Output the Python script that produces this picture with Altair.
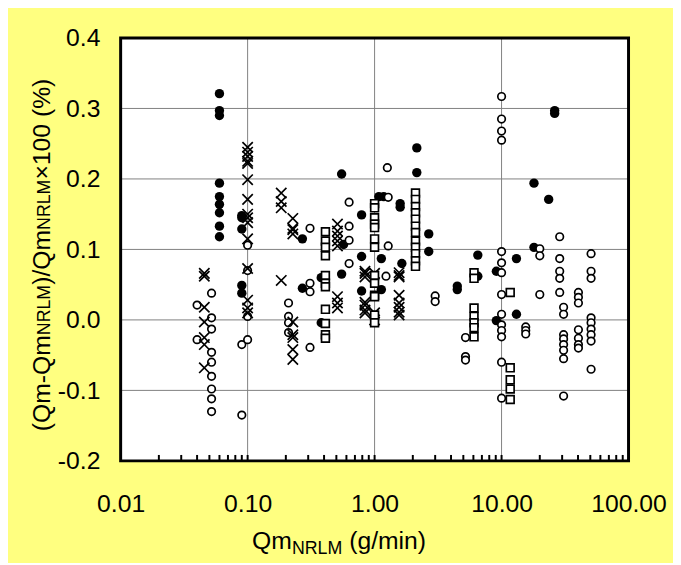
import altair as alt
import pandas as pd

# ---------------- data ----------------
filled_x = [0.06, 0.06, 0.06, 0.06, 0.06, 0.06, 0.06, 0.06, 0.06,
            0.09, 0.09, 0.09, 0.09, 0.09,
            0.27, 0.27, 0.38, 0.38, 0.55, 0.57, 0.55, 0.79, 0.79, 0.79,
            1.08, 1.18, 1.13, 1.13, 1.59, 1.59, 1.64, 2.15, 2.15, 2.67, 2.67,
            4.48, 4.48, 6.5, 6.5, 9.1, 9.1, 13.1, 13.1, 18, 18, 23.5, 26.2, 26.2]
filled_y = [0.321, 0.297, 0.290, 0.194, 0.175, 0.164, 0.152, 0.133, 0.118,
            0.148, 0.145, 0.129, 0.049, 0.038,
            0.115, 0.045, 0.060, -0.004, 0.207, 0.107, 0.065, 0.149, 0.090, 0.041,
            0.175, 0.175, 0.087, 0.043, 0.165, 0.160, 0.080, 0.244, 0.209, 0.122, 0.097,
            0.048, 0.043, 0.092, 0.062, 0.069, -0.001, 0.087, 0.008, 0.194, 0.103, 0.171, 0.297, 0.293]

open_x = [0.04, 0.04,
          0.052, 0.052, 0.052, 0.052, 0.052, 0.052, 0.052, 0.052, 0.052,
          0.09, 0.09, 0.1, 0.1, 0.1, 0.1,
          0.21, 0.21, 0.21, 0.21, 0.31, 0.31, 0.31, 0.31,
          0.63, 0.63, 0.63, 0.63, 1.26, 1.28, 1.28, 1.23, 3.0, 3.0,
          5.2, 5.2, 5.2,
          10, 10, 10, 10, 10, 10, 10, 10, 10, 10, 10, 10, 10, 10,
          15.5, 15.5, 15.5, 20, 20, 20,
          28.7, 28.7, 28.7, 28.7, 28.7,
          30.8, 30.8, 30.8, 30.8, 30.8, 30.8, 30.8, 30.8,
          40.3, 40.3, 40.3, 40.3, 40.3, 40.3, 40.3,
          50.7, 50.7, 50.7, 50.7, 50.7, 50.7, 50.7, 50.7, 50.7]
open_y = [0.021, -0.028,
          0.038, 0.003, -0.013, -0.046, -0.060, -0.080, -0.098, -0.112, -0.130,
          -0.035, -0.135, 0.106, 0.070, 0.005, -0.028,
          0.024, 0.005, -0.004, -0.018, 0.130, 0.052, 0.040, -0.039,
          0.167, 0.133, 0.113, 0.080, 0.216, 0.174, 0.105, 0.062, 0.034, 0.026,
          -0.025, -0.052, -0.057,
          0.317, 0.285, 0.268, 0.255, 0.097, 0.081, 0.067, 0.036, 0.008, -0.007, -0.015, -0.024, -0.060, -0.111,
          -0.010, -0.015, -0.020, 0.101, 0.091, 0.036,
          0.118, 0.087, 0.069, 0.059, 0.039,
          0.018, 0.008, -0.021, -0.027, -0.035, -0.043, -0.055, -0.108,
          0.039, 0.032, 0.024, -0.014, -0.026, -0.035, -0.040,
          0.094, 0.069, 0.059, 0.003, -0.004, -0.013, -0.021, -0.030, -0.070]

cross_x = [0.0456, 0.0456, 0.0456, 0.0456, 0.0456, 0.0456, 0.0456,
           0.1, 0.1, 0.1, 0.1, 0.1, 0.1, 0.1, 0.1, 0.1, 0.1, 0.1, 0.1, 0.1, 0.1, 0.1,
           0.184, 0.184, 0.184, 0.184,
           0.227, 0.227, 0.227, 0.227, 0.227, 0.227, 0.227, 0.227, 0.227,
           0.51, 0.51, 0.51, 0.51, 0.51, 0.51, 0.51, 0.51,
           0.84, 0.84, 0.84, 0.84, 0.84, 0.84, 0.84,
           1.0, 1.0, 1.0,
           1.56, 1.56, 1.56, 1.56, 1.56, 1.56, 1.56, 1.56]
cross_y = [0.066, 0.062, 0.018, -0.003, -0.025, -0.035, -0.068,
           0.245, 0.238, 0.232, 0.225, 0.222, 0.199, 0.171, 0.150, 0.145, 0.138, 0.115, 0.073, 0.028, 0.017, 0.010,
           0.180, 0.168, 0.159, 0.056,
           0.144, 0.130, 0.128, 0.122, -0.003, -0.021, -0.025, -0.042, -0.056,
           0.136, 0.126, 0.119, 0.112, 0.105, 0.033, 0.024, 0.017,
           0.069, 0.066, 0.061, 0.025, 0.021, 0.014, 0.010,
           0.066, 0.010, 0.000,
           0.067, 0.063, 0.061, 0.035, 0.024, 0.018, 0.011, 0.007]

square_x = [0.41, 0.41, 0.41, 0.41, 0.41, 0.41, 0.41, 0.41, 0.41, 0.41, 0.41,
            1.0, 1.0, 1.0, 1.0, 1.0, 1.0, 1.0, 1.0, 1.0, 1.0, 1.0, 1.0, 1.0,
            2.1, 2.1, 2.1, 2.1, 2.1, 2.1, 2.1, 2.1, 2.1, 2.1, 2.1, 2.1,
            6.07, 6.07, 6.07, 6.07, 6.07, 6.07, 6.07,
            11.7, 11.7, 11.7, 11.7, 11.7]
square_y = [0.125, 0.112, 0.103, 0.091, 0.063, 0.052, 0.047, 0.015, -0.005, -0.021, -0.026,
            0.165, 0.159, 0.145, 0.136, 0.131, 0.115, 0.103, 0.063, 0.052, 0.035, 0.033, 0.007, -0.004,
            0.180, 0.171, 0.161, 0.152, 0.143, 0.133, 0.124, 0.112, 0.103, 0.094, 0.084, 0.076,
            0.067, 0.059, 0.017, 0.005, -0.004, -0.011, -0.024,
            0.039, -0.068, -0.085, -0.098, -0.113]

x_tick_values = [0.01, 0.1, 1, 10, 100]
x_grid_values = [0.1, 1, 10]
x_minor_ticks = [0.02, 0.03, 0.04, 0.05, 0.06, 0.07, 0.08, 0.09, 0.1,
                 0.2, 0.3, 0.4, 0.5, 0.6, 0.7, 0.8, 0.9, 1,
                 2, 3, 4, 5, 6, 7, 8, 9, 10,
                 20, 30, 40, 50, 60, 70, 80, 90]
y_tick_values = [-0.2, -0.1, 0.0, 0.1, 0.2, 0.3, 0.4]
y_grid_values = [-0.1, 0.0, 0.1, 0.2, 0.3]

# ---------------- layout ----------------
W, H = 514, 428
FONT = "Liberation Sans"
BIG, SMALL = 25, 18
GRID = "#808080"

xscale = alt.Scale(type="log", domain=[0.01, 100], nice=False)
yscale = alt.Scale(domain=[-0.2, 0.4], nice=False)

xaxis = alt.Axis(values=x_tick_values, format=".2f", title=None, grid=False,
                 ticks=False, domain=False,
                 labelFontSize=BIG, labelColor="black", labelPadding=31,
                 labelFont=FONT, labelFlush=False, labelOverlap=False)
yaxis = alt.Axis(values=y_tick_values, title=None, grid=False,
                 labelExpr="replace(format(datum.value, '.1f'), '\u2212', '-')",
                 ticks=False, domain=False,
                 labelFontSize=BIG, labelColor="black", labelPadding=21,
                 labelFont=FONT, labelOverlap=False)

X = alt.X("x:Q", scale=xscale, axis=xaxis)
Y = alt.Y("y:Q", scale=yscale, axis=yaxis)


def series(xs, ys):
    return alt.Chart(pd.DataFrame({"x": xs, "y": ys}))


background = alt.Chart(pd.DataFrame({"a": [0]})).mark_rect(
    fill="white", stroke=None).encode(
    x=alt.value(0), x2=alt.value(W), y=alt.value(0), y2=alt.value(H))

vgrid = alt.Chart(pd.DataFrame({"x": x_grid_values})).mark_rule(
    color=GRID, strokeWidth=1).encode(x=X, y=alt.value(0), y2=alt.value(H))
hgrid = alt.Chart(pd.DataFrame({"y": y_grid_values})).mark_rule(
    color=GRID, strokeWidth=1).encode(y=Y, x=alt.value(0), x2=alt.value(W))

filled = series(filled_x, filled_y).mark_point(
    shape="circle", filled=True, color="black", size=90, opacity=1).encode(x=X, y=Y)
opened = series(open_x, open_y).mark_point(
    shape="circle", filled=True, fill="white", stroke="black", strokeWidth=1.7,
    size=58, opacity=1).encode(x=X, y=Y)
crosses = series(cross_x, cross_y).mark_point(
    shape="M-1,-1L1,1M-1,1L1,-1", filled=False, stroke="black", strokeWidth=1.7,
    size=110, opacity=1).encode(x=X, y=Y)
squares = series(square_x, square_y).mark_point(
    shape="square", filled=True, fill="white", stroke="black", strokeWidth=1.7,
    size=62, opacity=1).encode(x=X, y=Y)

ticks = alt.Chart(pd.DataFrame({"x": x_minor_ticks})).mark_rule(
    color="black", strokeWidth=2).encode(
    x=X, y=alt.value(H), y2=alt.value(H - 6))

frame = alt.Chart(pd.DataFrame({"a": [0]})).mark_rect(
    fill="white", fillOpacity=0, stroke="black", strokeWidth=3).encode(
    x=alt.value(0), x2=alt.value(W), y=alt.value(0), y2=alt.value(H))


def label(text, x, y, size, angle=0, align="left"):
    return alt.Chart(pd.DataFrame({"t": [text]})).mark_text(
        font=FONT, fontSize=size, color="black", align=align,
        baseline="alphabetic", angle=angle).encode(
        text="t:N", x=alt.value(x), y=alt.value(y))


# x title: Qm_NRLM (g/min)
xt_y = 517
x0 = 133
x_title = [
    label("Qm", x0, xt_y, BIG),
    label("NRLM", x0 + 40.3, xt_y + 5, SMALL),
    label("(g/min)", x0 + 40.3 + 51 + 7, xt_y, BIG),
]

# y title: (Qm-Qm_NRLM)/Qm_NRLM×100 (%)   (rotated, reads upwards)
yt_x = -71
y0 = 398
p1 = 3.888 * BIG
p2 = 2.833 * SMALL
p3 = 2.222 * BIG
y_title = [
    label("(Qm-Qm", yt_x, y0, BIG, angle=270),
    label("NRLM", yt_x, y0 - p1, SMALL, angle=270),
    label(")/Qm", yt_x, y0 - p1 - p2, BIG, angle=270),
    label("NRLM", yt_x, y0 - p1 - p2 - p3, SMALL, angle=270),
    label("\u00d7100 (%)", yt_x, y0 - p1 - 2 * p2 - p3, BIG, angle=270),
]

chart = alt.layer(background, vgrid, hgrid, filled, opened, crosses, squares,
                  ticks, frame, *x_title, *y_title).properties(
    width=W, height=H,
    autosize=alt.AutoSizeParams(type="none"),
    padding={"left": 114, "top": 27, "right": 45, "bottom": 100},
    background="#FFFF80",
).configure_view(strokeWidth=0).configure(font=FONT)

chart.save("out.html", embed_options={"renderer": "svg", "actions": False})
